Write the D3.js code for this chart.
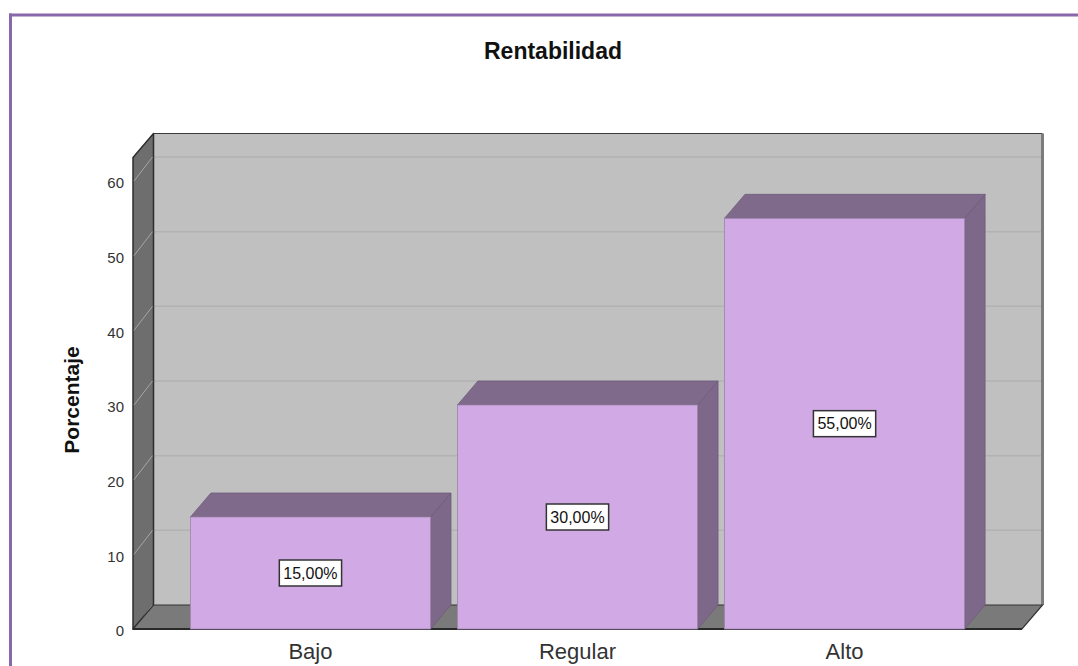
<!DOCTYPE html>
<html>
<head>
<meta charset="utf-8">
<script src="https://cdn.jsdelivr.net/npm/d3@7/dist/d3.min.js"></script>
<style>
  html, body { margin: 0; padding: 0; background: #ffffff; }
  svg { display: block; }
</style>
</head>
<body>
<script>
// ---- data ----
const categories = ["Bajo", "Regular", "Alto"];
const values = [15, 30, 55];
const valueLabels = ["15,00%", "30,00%", "55,00%"];
const yTicks = [0, 10, 20, 30, 40, 50, 60];
const chartTitle = "Rentabilidad";
const yTitle = "Porcentaje";

// ---- layout ----
const W = 1078, H = 666;
const frontLeft = 133, frontRight = 1022;
const frontBottom = 629, frontTop = 157.5;
const DX = 20.5, DY = 24;
const yMax = 63.15;

const svg = d3.select("body").append("svg").attr("width", W).attr("height", H);

// purple frame
svg.append("rect").attr("x", 9).attr("y", 13.5).attr("width", W).attr("height", 3).attr("fill", "#8867aa");
svg.append("rect").attr("x", 9).attr("y", 13.5).attr("width", 3).attr("height", H).attr("fill", "#8867aa");

const x = d3.scaleBand().domain(categories).range([frontLeft, frontRight])
  .paddingInner(0.101).paddingOuter(0.215);
const y = d3.scaleLinear().domain([0, yMax]).range([frontBottom, frontTop]);

// back wall
const bx0 = frontLeft + DX, bx1 = frontRight + DX;
svg.append("rect").attr("x", bx0).attr("y", y(yMax) - DY)
  .attr("width", bx1 - bx0).attr("height", y(0) - y(yMax))
  .attr("fill", "#c0c0c0");
// back gridlines
svg.append("g").selectAll("line").data(yTicks.filter(d => d > 0)).join("line")
  .attr("x1", bx0).attr("x2", bx1)
  .attr("y1", d => y(d) - DY).attr("y2", d => y(d) - DY)
  .attr("stroke", "#b2b2b2").attr("stroke-width", 1.5);
// back wall edges
svg.append("line").attr("x1", bx0).attr("x2", bx1).attr("y1", y(yMax) - DY).attr("y2", y(yMax) - DY)
  .attr("stroke", "#3a3a3a").attr("stroke-width", 1);
svg.append("line").attr("x1", bx1).attr("x2", bx1).attr("y1", y(yMax) - DY).attr("y2", y(0) - DY)
  .attr("stroke", "#7c7c7c").attr("stroke-width", 3);

// left wall
const leftWall = [[frontLeft, y(0)], [frontLeft, y(yMax)], [bx0, y(yMax) - DY], [bx0, y(0) - DY]];
svg.append("polygon").attr("points", leftWall.map(p => p.join(",")).join(" "))
  .attr("fill", "#6e6e6e").attr("stroke", "#2e2e2e").attr("stroke-width", 1.5)
  .attr("stroke-linejoin", "round");
svg.append("g").selectAll("line").data(yTicks).join("line")
  .attr("x1", frontLeft + 1).attr("x2", bx0 - 1)
  .attr("y1", d => y(d)).attr("y2", d => y(d) - DY)
  .attr("stroke", "#a6a6a6").attr("stroke-width", 1);

// floor
const floor = [[frontLeft, y(0)], [frontRight, y(0)], [bx1, y(0) - DY], [bx0, y(0) - DY]];
svg.append("polygon").attr("points", floor.map(p => p.join(",")).join(" "))
  .attr("fill", "#7a7a7a").attr("stroke", "#333").attr("stroke-width", 1.2);
svg.append("line").attr("x1", frontLeft).attr("x2", frontRight).attr("y1", y(0)).attr("y2", y(0))
  .attr("stroke", "#2a2a2a").attr("stroke-width", 2);

// bars
const bars = svg.append("g");
categories.forEach((c, i) => {
  const x0 = x(c), bw = x.bandwidth(), yv = y(values[i]), yb = y(0);
  const g = bars.append("g");
  const side = [[x0 + bw, yv], [x0 + bw + DX, yv - DY], [x0 + bw + DX, yb - DY], [x0 + bw, yb]];
  const top = [[x0, yv], [x0 + DX, yv - DY], [x0 + bw + DX, yv - DY], [x0 + bw, yv]];
  g.append("polygon").attr("points", side.map(p => p.join(",")).join(" "))
    .attr("fill", "#7d6889").attr("stroke", "#6e5a7a").attr("stroke-width", 0.8);
  g.append("polygon").attr("points", top.map(p => p.join(",")).join(" "))
    .attr("fill", "#806a8c").attr("stroke", "#6e5a7a").attr("stroke-width", 0.8);
  g.append("rect").attr("x", x0).attr("y", yv).attr("width", bw).attr("height", yb - yv)
    .attr("fill", "#d1a9e5").attr("stroke", "#9c84ab").attr("stroke-width", 0.8);
});

// value labels
categories.forEach((c, i) => {
  const cx = x(c) + x.bandwidth() / 2;
  const cy = (y(values[i]) + y(0)) / 2;
  const g = svg.append("g");
  const t = g.append("text").attr("x", cx).attr("y", cy)
    .attr("text-anchor", "middle").attr("dy", "0.36em")
    .attr("font-family", "Arial, 'Liberation Sans', sans-serif")
    .attr("font-size", 16).attr("fill", "#111")
    .text(valueLabels[i]);
  const bb = t.node().getBBox();
  g.insert("rect", "text").attr("x", cx - (bb.width + 8) / 2).attr("y", cy - 13)
    .attr("width", bb.width + 8).attr("height", 26)
    .attr("fill", "#ffffff").attr("stroke", "#333").attr("stroke-width", 1.5);
});

// y axis
const yAxis = d3.axisLeft(y).tickValues(yTicks).tickSize(0).tickPadding(9);
const ga = svg.append("g").attr("transform", `translate(${frontLeft},0)`).call(yAxis);
ga.select(".domain").remove();
ga.selectAll("text").attr("font-family", "Arial, 'Liberation Sans', sans-serif")
  .attr("font-size", 15).attr("fill", "#333").attr("dy", "0.45em");

// x axis labels
const xAxis = d3.axisBottom(x).tickSize(0).tickPadding(14);
const gx = svg.append("g").attr("transform", `translate(0,${frontBottom})`).call(xAxis);
gx.select(".domain").remove();
gx.selectAll("text").attr("font-family", "Arial, 'Liberation Sans', sans-serif")
  .attr("font-size", 22).attr("fill", "#333");

// titles
svg.append("text").attr("x", 553).attr("y", 59).attr("text-anchor", "middle")
  .attr("font-family", "Arial, 'Liberation Sans', sans-serif")
  .attr("font-weight", "bold").attr("font-size", 23).attr("fill", "#111")
  .text(chartTitle);
svg.append("text").attr("transform", "translate(79,400) rotate(-90)")
  .attr("text-anchor", "middle")
  .attr("font-family", "Arial, 'Liberation Sans', sans-serif")
  .attr("font-weight", "bold").attr("font-size", 21).attr("fill", "#111")
  .text(yTitle);
</script>
</body>
</html>
